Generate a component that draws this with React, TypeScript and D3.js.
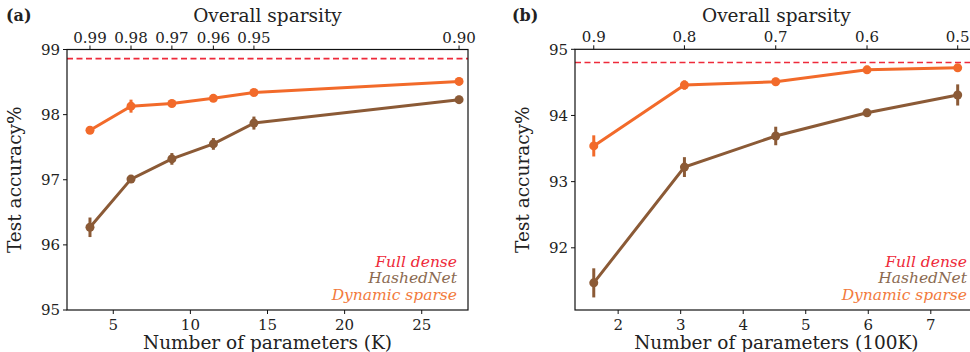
import * as d3 from "d3";

// panel (a)
const paramsA = [3.49, 6.15, 8.8, 11.49, 14.12, 27.42];
const sparsityA = ["0.99", "0.98", "0.97", "0.96", "0.95", "0.90"];
const dynamicA = [97.76, 98.13, 98.17, 98.25, 98.34, 98.51];
const dynamicErrA = [0.03, 0.1, 0.03, 0.03, 0.04, 0.06];
const hashedA = [96.27, 97.01, 97.32, 97.55, 97.87, 98.23];
const hashedErrA = [0.15, 0.03, 0.09, 0.09, 0.1, 0.06];
const denseA = 98.86;
const xTicksA = [5, 10, 15, 20, 25];
const yTicksA = [95, 96, 97, 98, 99];

// panel (b)
const paramsB = [1.61, 3.06, 4.52, 5.98, 7.43];
const sparsityB = ["0.9", "0.8", "0.7", "0.6", "0.5"];
const dynamicB = [93.54, 94.46, 94.51, 94.69, 94.72];
const dynamicErrB = [0.16, 0.07, 0.06, 0.06, 0.05];
const hashedB = [91.47, 93.22, 93.69, 94.04, 94.31];
const hashedErrB = [0.22, 0.15, 0.14, 0.06, 0.16];
const denseB = 94.8;
const xTicksB = [2, 3, 4, 5, 6, 7];
const yTicksB = [92, 93, 94, 95];

const ORANGE = "#f26a2a";
const BROWN = "#8b5a36";
const RED = "#ee2a3a";
const FONT = "DejaVu Serif";

type PanelProps = {
  label: string;
  xDomain: [number, number];
  xRange: [number, number];
  yDomain: [number, number];
  yRange: [number, number];
  params: number[];
  sparsity: string[];
  dynamic: number[];
  dynamicErr: number[];
  hashed: number[];
  hashedErr: number[];
  dense: number;
  xTicks: number[];
  yTicks: number[];
  xTitle: string;
  labelX: number;
  yTitleX: number;
  legendX: number;
};

function Panel(p: PanelProps) {
  const x = d3.scaleLinear().domain(p.xDomain).range(p.xRange);
  const y = d3.scaleLinear().domain(p.yDomain).range(p.yRange);
  const [x0, x1] = p.xRange;
  const [yb, yt] = p.yRange;
  const line = d3
    .line<number>()
    .x((_, i) => x(p.params[i]))
    .y((d) => y(d));

  const series = [
    { vals: p.hashed, errs: p.hashedErr, color: BROWN },
    { vals: p.dynamic, errs: p.dynamicErr, color: ORANGE },
  ];

  return (
    <g fontFamily={FONT} fill="#222">
      <text x={p.labelX} y={21} fontSize={16} fontWeight="bold">
        {p.label}
      </text>
      <text x={(x0 + x1) / 2} y={22} fontSize={18.5} textAnchor="middle">
        Overall sparsity
      </text>
      <text x={(x0 + x1) / 2} y={349} fontSize={18.5} textAnchor="middle">
        {p.xTitle}
      </text>
      <text
        transform={`translate(${p.yTitleX},${(yb + yt) / 2}) rotate(-90)`}
        fontSize={18.5}
        textAnchor="middle"
      >
        Test accuracy%
      </text>

      {/* dense baseline */}
      <line
        x1={x0}
        x2={x1}
        y1={y(p.dense)}
        y2={y(p.dense)}
        stroke={RED}
        strokeWidth={1.6}
        strokeDasharray="6,3.5"
      />

      {series.map((s, k) => (
        <g key={k}>
          <path d={line(s.vals) ?? ""} fill="none" stroke={s.color} strokeWidth={3} />
          {s.vals.map((v, i) => (
            <g key={i}>
              <line
                x1={x(p.params[i])}
                x2={x(p.params[i])}
                y1={y(v - s.errs[i])}
                y2={y(v + s.errs[i])}
                stroke={s.color}
                strokeWidth={3}
              />
              <circle cx={x(p.params[i])} cy={y(v)} r={4.5} fill={s.color} />
            </g>
          ))}
        </g>
      ))}

      {/* frame */}
      <rect x={x0} y={yt} width={x1 - x0} height={yb - yt} fill="none" stroke="#111" strokeWidth={1.2} />

      {/* bottom axis */}
      {p.xTicks.map((t) => (
        <g key={t} transform={`translate(${x(t)},${yb})`}>
          <line y2={4} stroke="#111" strokeWidth={1} />
          <text y={20} fontSize={15} textAnchor="middle">
            {t}
          </text>
        </g>
      ))}
      {/* left axis */}
      {p.yTicks.map((t) => (
        <g key={t} transform={`translate(${x0},${y(t)})`}>
          <line x2={-4} stroke="#111" strokeWidth={1} />
          <text x={-7} dy="0.36em" fontSize={15} textAnchor="end">
            {t}
          </text>
        </g>
      ))}
      {/* top axis: sparsity */}
      {p.params.map((t, i) => (
        <g key={i} transform={`translate(${x(t)},${yt})`}>
          <line y2={-4} stroke="#111" strokeWidth={1} />
          <text y={-7} fontSize={15} textAnchor="middle">
            {p.sparsity[i]}
          </text>
        </g>
      ))}

      {/* legend */}
      <g fontStyle="italic" fontSize={15.5} textAnchor="end">
        <text x={p.legendX} y={267} fill={RED}>
          Full dense
        </text>
        <text x={p.legendX} y={283} fill="#8b6a50">
          HashedNet
        </text>
        <text x={p.legendX} y={300} fill="#f27a3c">
          Dynamic sparse
        </text>
      </g>
    </g>
  );
}

export default function App() {
  return (
    <svg
      width={970}
      height={352}
      style={{ position: "absolute", left: 0, top: 0, background: "#fff" }}
    >
      <Panel
        label="(a)"
        xDomain={[2, 28]}
        xRange={[67, 468]}
        yDomain={[95, 99]}
        yRange={[310, 49.5]}
        params={paramsA}
        sparsity={sparsityA}
        dynamic={dynamicA}
        dynamicErr={dynamicErrA}
        hashed={hashedA}
        hashedErr={hashedErrA}
        dense={denseA}
        xTicks={xTicksA}
        yTicks={yTicksA}
        xTitle="Number of parameters (K)"
        labelX={6}
        yTitleX={21}
        legendX={457}
      />
      <Panel
        label="(b)"
        xDomain={[1.31, 7.75]}
        xRange={[575, 977.7]}
        yDomain={[91.06, 95]}
        yRange={[310, 49.3]}
        params={paramsB}
        sparsity={sparsityB}
        dynamic={dynamicB}
        dynamicErr={dynamicErrB}
        hashed={hashedB}
        hashedErr={hashedErrB}
        dense={denseB}
        xTicks={xTicksB}
        yTicks={yTicksB}
        xTitle="Number of parameters (100K)"
        labelX={512}
        yTitleX={529}
        legendX={967}
      />
    </svg>
  );
}
